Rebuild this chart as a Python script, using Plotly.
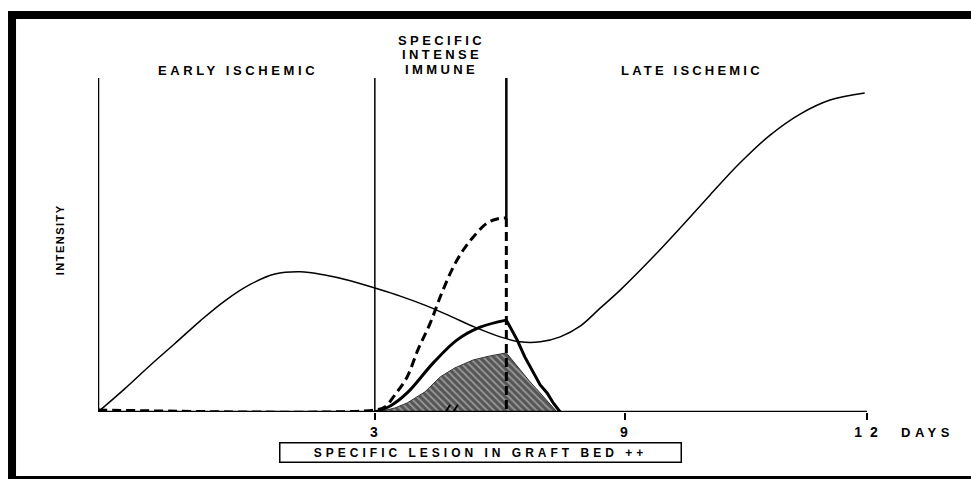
import plotly.graph_objects as go

# Horizontal position along the (broken) time axis, 0..100 ; intensity 0..100
ischemic_x = [0, 3.5, 6.8, 10.0, 13.3, 16.5, 19.8, 23.0, 26.3, 29.5, 32.8, 36.0, 39.3, 42.5,
              45.8, 49.0, 52.3, 54.9, 57.5, 60.1, 62.7, 65.3, 67.9, 71.8, 75.7, 79.6, 83.5,
              87.4, 91.3, 95.2, 99.7]
ischemic_y = [0, 7.0, 14.0, 20.5, 27.3, 33.3, 38.2, 41.3, 42.0, 41.0, 39.3, 37.1, 34.7, 32.0,
              28.7, 25.4, 22.5, 21.0, 21.0, 22.5, 25.7, 31.1, 36.5, 45.5, 55.1, 65.0, 74.6,
              82.9, 89.2, 93.4, 95.5]

dashed_x = [0, 36.0, 37.3, 38.6, 40.2, 41.6, 43.2, 44.7, 46.2, 47.5, 48.8, 50.6, 51.9, 53.1]
dashed_y = [0.6, 0.6, 1.5, 5.1, 10.5, 18.6, 26.6, 35.6, 43.4, 48.5, 52.4, 56.6, 57.8, 58.1]

thick_rise_x = [36.0, 38.0, 40.2, 43.6, 46.7, 49.7, 53.1]
thick_rise_y = [0, 1.8, 5.7, 14.7, 21.6, 25.4, 27.5]
thick_fall_x = [53.1, 54.5, 55.5, 56.6, 57.5, 58.4, 59.2, 60.1]
thick_fall_y = [27.5, 21.6, 16.5, 11.7, 8.1, 5.7, 2.7, 0]

hatch_x = [36.4, 38.6, 40.2, 42.5, 44.5, 46.4, 48.8, 51.0, 53.1, 54.9, 56.2, 57.5, 58.8, 59.7]
hatch_y = [0, 1.2, 2.7, 6.0, 10.5, 13.2, 15.6, 16.8, 17.7, 12.6, 9.0, 5.7, 2.4, 0]

phase_x = [0, 36.0, 53.1]          # phase boundaries (start, day 3, end of immune phase)
tick_pos = [36.0, 68.5, 100]
tick_text = ["3", "9", "1 2"]

FONT = "Liberation Sans"


def spaced(t, ls):
    return '<span style="letter-spacing:%spx"><b>%s</b></span>' % (ls, t)


fig = go.Figure()

# hatched area
fig.add_trace(go.Scatter(x=hatch_x, y=hatch_y, mode="lines", fill="toself",
                         line=dict(color="#333", width=1),
                         fillpattern=dict(shape="\\", fgcolor="#dcdcdc", bgcolor="#555555",
                                          size=5, solidity=0.35),
                         hoverinfo="skip", showlegend=False))
# ischemic curve
fig.add_trace(go.Scatter(x=ischemic_x, y=ischemic_y, mode="lines", line_shape="spline",
                         line=dict(color="black", width=1.5), showlegend=False))
# dashed curve (rise, then vertical drop)
fig.add_trace(go.Scatter(x=dashed_x, y=dashed_y, mode="lines", line_shape="spline",
                         line=dict(color="black", width=3, dash="9px,5px"), showlegend=False))
fig.add_trace(go.Scatter(x=[dashed_x[-1], dashed_x[-1]], y=[dashed_y[-1], 0], mode="lines",
                         line=dict(color="black", width=3, dash="9px,5px"), showlegend=False))
# thick curve
fig.add_trace(go.Scatter(x=thick_rise_x, y=thick_rise_y, mode="lines", line_shape="spline",
                         line=dict(color="black", width=3), showlegend=False))
fig.add_trace(go.Scatter(x=thick_fall_x, y=thick_fall_y, mode="lines",
                         line=dict(color="black", width=3), showlegend=False))

shapes = []
# phase boundaries
shapes.append(dict(type="line", xref="x", yref="y", x0=phase_x[0], x1=phase_x[0], y0=0, y1=100,
                   line=dict(color="black", width=2.5)))
shapes.append(dict(type="line", xref="x", yref="y", x0=phase_x[1], x1=phase_x[1], y0=0, y1=100,
                   line=dict(color="black", width=1.5)))
shapes.append(dict(type="line", xref="x", yref="y", x0=phase_x[2], x1=phase_x[2], y0=dashed_y[-1], y1=100,
                   line=dict(color="black", width=2.5)))
# baseline
shapes.append(dict(type="line", xref="x", yref="y", x0=0, x1=100, y0=0, y1=0,
                   line=dict(color="black", width=2.5)))
# axis break marks
for dx in (0, 1.0):
    shapes.append(dict(type="line", xref="x", yref="y", x0=44.6 + dx, x1=45.8 + dx, y0=-2.2, y1=2.2,
                       line=dict(color="black", width=1.8)))
# frame
shapes += [
    dict(type="rect", xref="paper", yref="paper", x0=-0.117, x1=1.2, y0=1.1766, y1=1.2006,
         fillcolor="black", line=dict(width=0)),
    dict(type="rect", xref="paper", yref="paper", x0=-0.117, x1=-0.1066, y0=-0.25, y1=1.2006,
         fillcolor="black", line=dict(width=0)),
    dict(type="rect", xref="paper", yref="paper", x0=-0.117, x1=1.2, y0=-0.25, y1=-0.1916,
         fillcolor="black", line=dict(width=0)),
]

ann_font = dict(family=FONT, size=13, color="black")
common = dict(xref="paper", yref="paper", showarrow=False, xanchor="center", yanchor="middle")
annotations = [
    dict(text=spaced("EARLY ISCHEMIC", 3.6), x=0.182, y=1.021, font=ann_font, **common),
    dict(text=spaced("SPECIFIC", 3.4), x=0.447, y=1.1108, font=ann_font, **common),
    dict(text=spaced("INTENSE", 3.4), x=0.447, y=1.0689, font=ann_font, **common),
    dict(text=spaced("IMMUNE", 3.4), x=0.447, y=1.0269, font=ann_font, **common),
    dict(text=spaced("LATE ISCHEMIC", 3.2), x=0.772, y=1.021, font=ann_font, **common),
    dict(text=spaced("INTENSITY", 1.5), x=-0.049, y=0.515, textangle=-90,
         font=dict(family=FONT, size=11, color="black"), **common),
    dict(text=spaced("DAYS", 4.5), x=1.079, y=-0.06, font=ann_font, **common),
    dict(text=spaced("SPECIFIC LESION IN GRAFT BED ++", 4.0), x=0.497, y=-0.12,
         font=dict(family=FONT, size=12, color="black"),
         bordercolor="black", borderwidth=1.5, width=398, height=16, borderpad=1, **common),
]

fig.update_layout(
    width=971, height=479,
    margin=dict(l=98, r=104, t=78, b=67),
    paper_bgcolor="white", plot_bgcolor="white",
    shapes=shapes, annotations=annotations,
    xaxis=dict(range=[0, 100], showgrid=False, zeroline=False, showline=False,
               tickvals=tick_pos, ticktext=[spaced(t, 2) for t in tick_text],
               ticks="outside", ticklen=7, tickwidth=2, tickcolor="black",
               tickfont=dict(family=FONT, size=14, color="black")),
    yaxis=dict(range=[0, 100], showgrid=False, zeroline=False, showline=False,
               showticklabels=False, ticks=""),
)

fig.write_html("out.html", config={"displayModeBar": False},
               post_script="document.body.style.margin='0';document.body.style.overflow='hidden';")
